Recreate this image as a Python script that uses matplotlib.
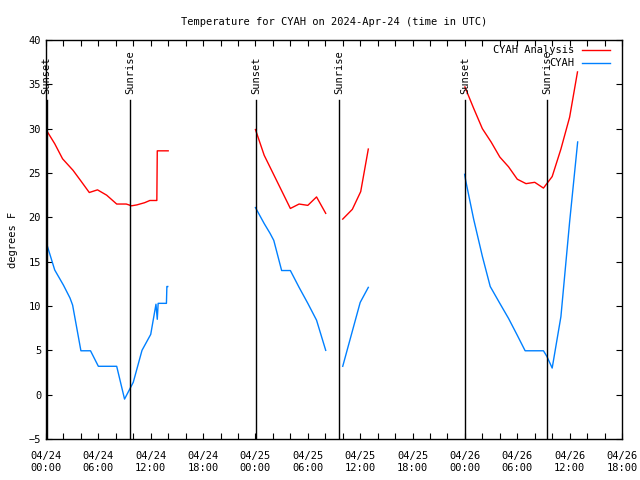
import numpy as np
import pandas as pd
import matplotlib
matplotlib.use('Agg')
import matplotlib.pyplot as plt
import matplotlib.dates as mdates

# Data (hours after 2024-04-24 00:00 UTC)
an_hours = [0, 1, 1.9, 3.1, 4, 4.96, 5.9, 6.95, 8.1, 9.2, 9.8, 10.4, 11.3, 11.9, 12.7, 12.75, 14.0,
            14.5,
            24, 25, 26, 27, 28, 29, 30, 31, 32.05,
            33,
            34, 35.1, 36.06, 36.93,
            40,
            48, 49, 50, 51, 52, 53, 54, 55, 56, 57, 58, 59, 60, 60.9]
an_temp = [29.9, 28.3, 26.6, 25.3, 24.1, 22.8, 23.1, 22.5, 21.5, 21.5, 21.3, 21.4, 21.65, 21.9, 21.9, 27.5, 27.5,
           np.nan,
           29.9, 27.0, 25.0, 23.0, 21.0, 21.5, 21.35, 22.3, 20.45,
           np.nan,
           19.8, 20.9, 22.9, 27.7,
           np.nan,
           34.7, 32.3, 30.0, 28.5, 26.8, 25.7, 24.3, 23.8, 23.95, 23.3, 24.6, 27.7, 31.3, 36.4]

obs_hours = [0, 1, 2, 2.75, 3.05, 4, 5.1, 6, 8.1, 9, 10, 11, 12, 12.6, 12.75, 12.85, 13.8, 13.85, 13.95,
             14.5,
             24, 25, 25.67, 26.1, 27, 28, 29, 30, 31, 32.05,
             33,
             34, 35, 36, 36.93,
             40,
             47.97, 48.1, 49, 50, 50.9, 52, 53, 54, 54.9, 57, 57.4, 58, 59, 60, 60.92]
obs_temp = [17.25, 14.06, 12.35, 10.9, 10.1, 4.95, 4.95, 3.2, 3.2, -0.5, 1.4, 5.0, 6.8, 10.2, 8.5, 10.3, 10.3, 12.2, 12.2,
            np.nan,
            21.1, 19.3, 18.2, 17.4, 14.0, 14.0, 12.1, 10.3, 8.4, 5.0,
            np.nan,
            3.2, 6.8, 10.4, 12.1,
            np.nan,
            24.85, 24.1, 19.8, 15.6, 12.2, 10.3, 8.6, 6.7, 4.95, 4.95, 4.3, 3.0, 8.8, 19.5, 28.5]

sunset_hours = [0.08, 24.05, 48.0]
sunrise_hours = [9.62, 33.6, 57.45]

base = pd.Timestamp('2024-04-24 00:00')
to_time = lambda hrs: [base + pd.Timedelta(hours=h) for h in hrs]

plt.rcParams['font.family'] = ['DejaVu Sans Mono']
plt.rcParams['font.size'] = 7

fig = plt.figure(figsize=(6.4, 4.8), dpi=100)
ax = fig.add_axes([46/640, 1 - 439/480, 576/640, 399/480])

ax.plot(to_time(an_hours), an_temp, color='#ff0000', lw=1.0)
ax.plot(to_time(obs_hours), obs_temp, color='#0080ff', lw=1.0)

# sunset / sunrise markers
for hrs, name in [(sunset_hours, 'Sunset'), (sunrise_hours, 'Sunrise')]:
    for t in to_time(hrs):
        ax.axvline(t, ymin=0, ymax=0.85, color='black', lw=1.0)
        ax.text(t, 0.865, name, rotation=90, ha='center', va='bottom',
                transform=ax.get_xaxis_transform(), fontsize=7.5)

# legend drawn gnuplot style
for i, (lab, col) in enumerate([('CYAH Analysis', '#ff0000'), ('CYAH', '#0080ff')]):
    y = 0.975 - i * 0.033
    ax.text(0.917, y, lab, ha='right', va='center', transform=ax.transAxes, fontsize=7.5)
    ax.plot([0.931, 0.979], [y, y], color=col, lw=1.0, transform=ax.transAxes)

ax.set_xlim(base, base + pd.Timedelta(hours=66))
ax.set_ylim(-5, 40)
ax.set_yticks(np.arange(-5, 41, 5))
ax.xaxis.set_major_locator(mdates.HourLocator(byhour=[0, 6, 12, 18]))
ax.xaxis.set_minor_locator(mdates.HourLocator(interval=2))
ax.xaxis.set_major_formatter(mdates.DateFormatter('%m/%d\n%H:%M'))
ax.tick_params(which='both', direction='in', top=True, right=True, length=4, width=0.8, labelsize=7.5)
ax.tick_params(axis='x', pad=9)
for s in ax.spines.values():
    s.set_linewidth(1.0)

ax.set_ylabel('degrees F', fontsize=7.5, labelpad=8)
ax.set_title('Temperature for CYAH on 2024-Apr-24 (time in UTC)', fontsize=7.5, pad=11)

fig.savefig('out.png', dpi=100)
